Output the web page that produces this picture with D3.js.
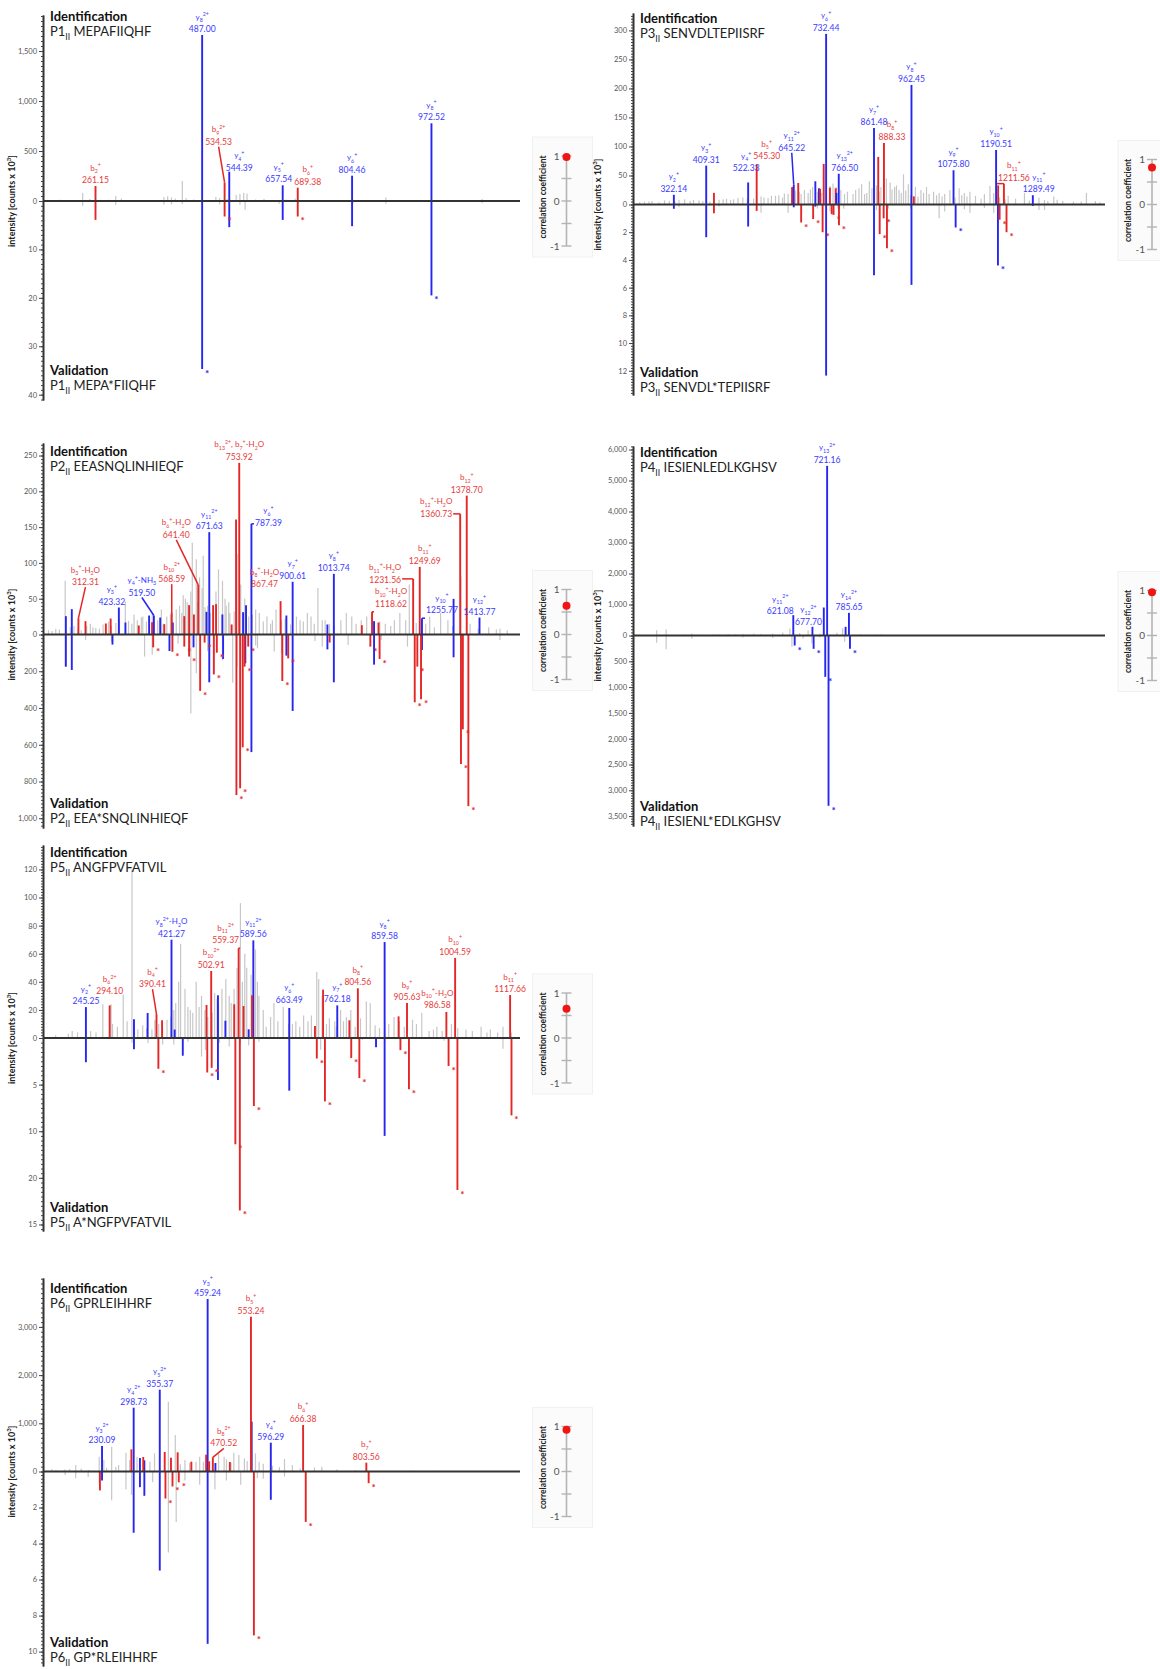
<!DOCTYPE html>
<html>
<head>
<meta charset="utf-8">
<script src="https://cdn.jsdelivr.net/npm/d3@7"></script>
<style>
  body { margin: 0; background: #fff; }
  svg text { font-family: Lato, "Open Sans", "DejaVu Sans", sans-serif; }
</style>
</head>
<body>
<svg id="chart" width="1160" height="1669"></svg>
<script>
// ---------- P1: MEPAFIIQHF ----------
const p1Ident = [[261.15,150,'b'],[487.00,1660,'y'],[534.53,183,'b'],[544.39,293,'y'],[657.54,157,'y'],[689.38,133,'b'],[804.46,253,'y'],[972.52,777,'y']];
const p1Valid = [[261.15,3.9,'b',0],[487.00,34.7,'y',1],[534.53,3.2,'b',1],[544.39,5.4,'y',0],[657.54,3.9,'y',0],[689.38,3.2,'b',1],[804.46,5.2,'y',0],[972.52,19.5,'y',1]];
const p1IdentNoise = [[187,13],[200,8],[215,10],[234,80],[249,20],[273,12],[290,12],[304,50],[316,25],[350,8],[380,10],[406,40],[414,47],[422,35],[430,25],[445,200],[453,30],[469,15],[500,10],[516,40],[524,30],[540,20],[559,60],[567,70],[575,80],[582,75],[600,15],[618,20],[640,12],[665,15],[684,25],[720,8],[735,10],[760,10],[806,15],[850,8],[876,35],[900,10],[939,10],[1000,8],[1040,10],[1080,20],[1107,8],[1130,6]];
const p1ValidNoise = [[234,1.0],[304,0.75],[406,0.7],[422,0.7],[445,0.6],[524,0.7],[567,0.8],[578,1.8],[650,0.55],[806,0.5],[876,0.55],[1080,0.4]];
const p1Labels = [['b_2^+','261.15'],['y_8^2+','487.00'],['b_9^2+','534.53'],['y_4^+','544.39'],['y_5^+','657.54'],['b_6^+','689.38'],['y_6^+','804.46'],['y_8^+','972.52']];
const p1Nudge = {'534.53':[-6,-35,1],'544.39':[10,2,0],'657.54':[-4,0,0],'689.38':[10,0,0]};

// ---------- P3: SENVDLTEPIISRF ----------
const p3Ident = [[322.14,16.7,'y'],[409.31,67,'y'],[430.1,20,'b'],[522.33,38,'y'],[545.30,69,'b'],[640.7,30,'b'],[645.22,34,'y'],[657.3,37,'b'],[703.4,40,'y'],[713.2,28,'y'],[716.1,27,'b'],[725.9,70,'b'],[732.44,294,'y'],[742.6,29,'b'],[758.2,28,'b'],[760.2,20,'y'],[766.50,53,'y'],[861.48,132,'y'],[872.9,82,'b'],[888.33,106,'b'],[962.45,206,'y'],[968.8,14,'b'],[1075.80,59,'y'],[1190.51,94,'y'],[1196,33,'b'],[1211.56,36,'b'],[1289.49,16,'y']];
const p3Valid = [[322.14,0.31,'y',0],[409.31,2.36,'y',0],[430.1,0.63,'b',0],[522.33,1.59,'y',0],[545.30,0.46,'b',0],[645.22,0.2,'y',0],[665.2,1.3,'b',1],[697.5,1.05,'b',1],[703.4,0.15,'y',0],[723,2.0,'b',1],[732.44,12.35,'y',0],[747.5,0.7,'b',0],[752.4,0.75,'b',1],[766.50,0.3,'y',0],[767.1,1.5,'b',1],[861.48,5.1,'y',0],[876.8,2.14,'b',1],[887.5,1.0,'b',1],[896.4,3.15,'b',1],[962.45,5.8,'y',0],[1081.5,1.66,'y',1],[1195.5,4.4,'y',1],[1200,1.1,'b',1],[1218.6,2.0,'b',1],[1289.49,0.1,'y',0]];
const p3IdentNoise = [[230,4],[243,5],[255,5],[263,6],[282,4],[297,7],[310,6],[325,5],[336,8],[351,9],[366,6],[375,8],[390,7],[400,6],[419,5],[430,7],[444,8],[455,9],[464,10],[475,8],[483,9],[495,11],[508,12],[520,9],[537,10],[545,13],[557,14],[565,12],[576,11],[585,15],[596,15],[605,16],[615,12],[620,19],[630,18],[640,20],[650,24],[660,22],[665,18],[674,25],[684,20],[690,26],[696,30],[709,22],[720,20],[743,32],[751,36],[760,30],[772,25],[782,18],[790,22],[805,18],[812,25],[821,28],[828,35],[836,18],[842,20],[849,40],[856,28],[868,33],[875,22],[880,30],[888,18],[895,45],[905,38],[910,26],[917,30],[922,33],[929,25],[935,20],[941,52],[947,24],[954,35],[960,16],[973,30],[980,14],[988,25],[995,20],[1003,30],[1010,18],[1022,22],[1030,16],[1037,20],[1045,14],[1052,18],[1066,25],[1080,12],[1091,28],[1098,16],[1105,20],[1112,14],[1120,22],[1135,15],[1150,10],[1159,18],[1174,32],[1184,20],[1200,12],[1215,9],[1223,15],[1243,10],[1267,20],[1280,7],[1306,12],[1321,8],[1330,6],[1346,14],[1355,8],[1370,6],[1399,5],[1420,5],[1434,20],[1458,6],[1470,4]];
const p3ValidNoise = [[336,0.2],[444,0.15],[557,0.6],[630,0.6],[709,0.3],[743,0.5],[780,0.3],[868,0.4],[900,0.3],[960,0.3],[1037,1.0],[1052,0.5],[1105,0.35],[1120,0.6],[1159,0.25],[1184,0.6],[1306,0.4],[1321,0.4]];
const p3Labels = [['y_2^+','322.14'],['y_3^+','409.31'],['y_4^+','522.33'],['b_5^+','545.30'],['y_11^2+','645.22'],['y_6^+','732.44'],['y_13^2+','766.50'],['y_7^+','861.48'],['b_8^+','888.33'],['y_8^+','962.45'],['y_9^+','1075.80'],['y_10^+','1190.51'],['b_11^+','1211.56'],['y_11^+','1289.49']];
const p3Nudge = {'522.33':[-2,-8,0],'545.30':[10,-2,0],'645.22':[-2,-31,1],'766.50':[6,0,0],'888.33':[8,0,0],'1211.56':[10,0,1],'1289.49':[6,0,0]};

// ---------- P2: EEASNQLINHIEQF ----------
const p2Ident = [
  [277.8,25.6,'y'],[294.1,35.4,'y'],[423.32,37.7,'y'],[441.4,16.8,'y'],[506.4,26.5,'y'],[519.50,26.5,'y'],[536.9,23.7,'y'],[571.5,16.8,'y'],[663.9,31.7,'y'],[671.63,143,'y'],[707.6,28,'y'],[764.5,31.2,'y'],[772.6,41,'y'],[787.39,154.6,'y'],[883.4,26.5,'y'],[900.61,73.6,'y'],[996.1,14,'y'],[1013.74,84.7,'y'],[1124.2,18.6,'y'],[1255.77,22.8,'y'],[1342.6,49.8,'y'],[1413.77,23.7,'y'],
  [312.31,22.8,'b'],[331.7,18.6,'b'],[387.6,15.4,'b'],[400.8,22.3,'b'],[478,12.6,'b'],[514.6,17.2,'b'],[548.1,14.4,'b'],[568.59,31.2,'b'],[603,25.6,'b'],[616.2,41,'b'],[629.4,28,'b'],[641.40,69.4,'b'],[682.2,41,'b'],[690.3,42.4,'b'],[733,14,'b'],[745.2,160.6,'b'],[753.92,239.8,'b'],[867.47,46.6,'b'],[1090.6,13,'b'],[1118.62,31.7,'b'],[1136.4,16.8,'b'],[1231.56,77.7,'b'],[1249.69,94.5,'b'],[1360.73,168.5,'b'],[1378.70,194,'b']];
const p2Valid = [
  [277.8,175,'y',0],[294.1,193,'y',0],[405.8,55,'y',0],[562.3,90,'y',0],[628.4,70,'y',0],[671.63,260,'y',0],[709.6,133,'y',0],[770.6,157,'y',0],[787.39,640,'y',0],[883.4,115,'y',0],[900.61,416,'y',0],[996.1,81,'y',0],[1013.74,260,'y',0],[1124.2,164,'y',0],[1255.77,84,'y',0],[1342.6,124,'y',0],
  [517.6,70,'b',1],[570.4,94,'b',1],[603,66,'b',1],[616.2,120,'b',1],[646.6,307,'b',1],[658.8,44,'b',1],[684.2,217,'b',1],[692.4,99,'b',1],[746.2,874,'b',1],[756.4,837,'b',1],[763.5,614,'b',1],[768.6,175,'b',1],[778.7,66,'b',1],[872.2,253,'b',1],[888.4,130,'b',1],[1002.2,44,'b',0],[1114,66,'b',1],[1139.4,133,'b',1],[1235.9,369,'b',1],[1243,175,'b',1],[1253.2,353,'b',1],[1362.9,705,'b',1],[1368,516,'b',1],[1383.2,934,'b',1]];
const p2IdentNoise = [[230,6],[240,5],[250,8],[260,7],[276,75],[290,10],[300,12],[311,8],[320,6],[335,12],[345,15],[352,10],[360,9],[370,8],[380,14],[395,18],[403,12],[415,16],[425,22],[441,46],[450,19],[459,15],[465,28],[474,20],[485,24],[489,25],[499,18],[515,30],[530,20],[540,35],[545,15],[555,25],[565,28],[581,35],[590,40],[596,30],[600,55],[606,50],[611,45],[621,60],[625,128],[636,105],[640,45],[645,80],[652,65],[655,110],[660,38],[667,40],[675,30],[690,60],[697,91],[708,75],[715,50],[718,40],[725,45],[728,30],[740,32],[748,112],[758,70],[769,50],[780,25],[790,28],[799,35],[809,30],[820,18],[830,25],[840,15],[845,20],[855,35],[870,20],[880,22],[895,14],[911,25],[921,20],[930,18],[941,30],[951,25],[960,15],[970,65],[982,20],[990,20],[1002,15],[1015,12],[1033,20],[1048,30],[1063,25],[1075,15],[1089,20],[1104,25],[1120,14],[1140,18],[1155,15],[1170,12],[1180,20],[1195,30],[1211,20],[1221,70],[1240,16],[1266,15],[1277,25],[1290,10],[1307,30],[1327,20],[1340,12],[1363,81],[1388,15],[1410,8],[1439,10],[1460,7],[1470,8],[1490,6]];
const p2ValidNoise = [[276,175],[332,30],[403,40],[494,120],[515,110],[586,50],[621,430],[636,211],[667,90],[708,140],[736,262],[748,175],[769,102],[799,60],[804,75],[850,93],[870,100],[962,35],[982,66],[1053,57],[1144,30],[1216,66],[1368,200],[1470,30]];
const p2Labels = [['b_3^+-H_2O','312.31'],['y_3^+','423.32'],['y_4^+-NH_3','519.50'],['b_10^2+','568.59'],['b_6^+-H_2O','641.40'],['y_11^2+','671.63'],['b_13^2+, b_7^+-H_2O','753.92'],['y_6^+','787.39'],['b_8^+-H_2O','867.47'],['y_7^+','900.61'],['y_8^+','1013.74'],['b_10^+-H_2O','1118.62'],['b_11^+-H_2O','1231.56'],['b_11^+','1249.69'],['y_10^+','1255.77'],['b_12^+-H_2O','1360.73'],['b_12^+','1378.70'],['y_12^+','1413.77']];
const p2Nudge = {'312.31':[7,-30,1],'423.32':[-7,0,0],'519.50':[-12,-17,1],'568.59':[0,-27,1],'641.40':[-22,-44,1],'787.39':[17,5,1],'867.47':[-16,-11,0],'1118.62':[19,-2,1],'1231.56':[-28,7,1],'1249.69':[5,0,0],'1255.77':[20,-2,1],'1360.73':[-24,6,1]};

// ---------- P4: IESIENLEDLKGHSV ----------
const p4Ident = [[621.08,656,'y'],[677.70,280,'y'],[711.3,903,'y'],[721.16,5473,'y'],[775.8,280,'y'],[785.65,731,'y']];
const p4Valid = [[625.2,194,'y',1],[681.2,258,'y',1],[715.6,801,'y',1],[725.3,3301,'y',1],[788.7,258,'y',1]];
const p4IdentNoise = [[217,172],[245,194],[300,30],[321,65],[350,25],[385,35],[400,30],[428,40],[450,40],[472,45],[490,35],[504,55],[525,50],[560,60],[590,100],[611,225],[640,80],[665,170],[700,60],[750,90],[767,237],[820,40],[840,25],[869,30],[880,30],[1031,20],[1117,15]];
const p4ValidNoise = [[217,142],[245,265],[321,58],[472,39],[560,50],[617,220],[650,60],[676,155],[700,40],[773,123]];
const p4Labels = [['y_11^2+','621.08'],['y_12^2+','677.70'],['y_13^2+','721.16'],['y_14^2+','785.65']];
const p4Nudge = {'621.08':[-13,2,0],'677.70':[-4,1,0]};

// ---------- P5: ANGFPVFATVIL ----------
const p5Ident = [
  [245.25,22,'y'],[344.1,13.3,'y'],[372.2,17.8,'y'],[421.27,70,'y'],[427.8,6,'y'],[516.8,30.4,'y'],[532.1,12.3,'y'],[580,6.2,'y'],[589.56,69.5,'y'],[663.49,21.4,'y'],[762.18,23.2,'y'],[859.58,68.3,'y'],
  [294.10,23.2,'b'],[390.41,17,'b'],[401.9,12.6,'b'],[493.3,23.5,'b'],[502.91,47.7,'b'],[550.3,24,'b'],[559.37,64,'b'],[569.4,22.8,'b'],[586.9,30.4,'b'],[716.3,8.5,'b'],[733,34.4,'b'],[787.1,12.6,'b'],[804.56,35.4,'b'],[888.3,15.4,'b'],[905.63,24.9,'b'],[986.58,18.5,'b'],[1004.59,57,'b'],[1117.66,30.6,'b']];
const p5Valid = [
  [245.25,2.6,'y',0],[344.1,1.2,'y',0],[444.5,1.9,'y',0],[516.8,4.5,'y',0],[663.49,5.65,'y',0],[841.9,1.0,'y',0],[859.58,10.5,'y',0],
  [394.3,3.3,'b',1],[494.8,3.7,'b',1],[503.9,3.2,'b',1],[552.6,11.4,'b',1],[561.8,18.5,'b',1],[590.7,7.3,'b',1],[720.1,2.2,'b',1],[736.8,6.8,'b',1],[790.9,2.15,'b',1],[807.6,4.3,'b',1],[892.1,1.3,'b',1],[909.6,5.5,'b',1],[991.1,3.0,'b',1],[1009.3,16.3,'b',1],[1120.5,8.3,'b',1]];
const p5IdentNoise = [[183,2],[209,3],[217,5],[228,4],[255,5],[266,4],[280,24],[297,24],[300,10],[310,8],[322,31],[330,12],[340,120],[345,8],[352,6],[362,9],[370,7],[381,6],[387,13],[395,10],[403,8],[412,13],[420,15],[426,20],[430,25],[436,40],[440,67],[449,35],[455,22],[460,20],[465,18],[472,40],[478,22],[483,30],[490,20],[496,15],[505,18],[510,32],[515,28],[518,25],[525,35],[533,42],[540,30],[544,25],[550,35],[556,50],[563,96],[567,40],[572,60],[576,50],[585,45],[594,63],[598,40],[601,30],[610,20],[616,8],[625,15],[632,25],[640,12],[651,22],[662,10],[670,10],[677,12],[685,8],[693,16],[702,12],[709,16],[720,47],[724,42],[731,30],[740,10],[746,14],[757,12],[760,8],[769,20],[775,12],[781,15],[790,20],[799,8],[810,14],[822,26],[830,25],[840,9],[849,7],[860,12],[868,10],[879,15],[890,12],[900,8],[917,13],[925,10],[936,18],[951,5],[960,6],[967,8],[978,5],[997,10],[1010,7],[1027,6],[1040,5],[1058,8],[1070,4],[1077,6],[1092,4],[1103,8],[1120,4]];
const p5ValidNoise = [[340,0.5],[373,0.55],[403,0.7],[426,0.7],[455,0.4],[483,2.0],[491,1.3],[520,0.5],[540,0.9],[563,0.6],[580,0.8],[601,0.4],[728,1.25],[814,0.2],[860,0.35],[982,0.3],[1103,1.15]];
const p5Labels = [['y_2^+','245.25'],['b_6^2+','294.10'],['b_4^+','390.41'],['y_8^2+-H_2O','421.27'],['b_10^2+','502.91'],['b_11^2+','559.37'],['y_11^2+','589.56'],['y_6^+','663.49'],['y_7^+','762.18'],['b_8^+','804.56'],['y_8^+','859.58'],['b_9^+','905.63'],['b_10^+-H_2O','986.58'],['b_10^+','1004.59'],['b_11^+','1117.66']];
const p5Nudge = {'294.10':[0,-8,0],'390.41':[-4,-24,1],'559.37':[-13,-2,1],'663.49':[0,-2,0],'986.58':[-9,-1,0]};

// ---------- P6: GPRLEIHHRF ----------
const p6Ident = [
  [230.09,529,'y'],[298.73,1324,'y'],[312.3,280,'y'],[321.9,232,'y'],[355.37,1698,'y'],[459.24,3579,'y'],[476.1,176,'y'],[554.8,1034,'y'],[596.29,598,'y'],
  [293.8,460,'b'],[319.5,301,'b'],[366.1,405,'b'],[379.7,287,'b'],[394.2,398,'b'],[423.9,204,'b'],[456,349,'b'],[462.5,211,'b'],[470.52,294,'b'],[507.4,197,'b'],[553.24,3212,'b'],[666.38,965,'b'],[803.56,183,'b']];
const p6Valid = [
  [230.09,0.5,'y',0],[298.73,3.4,'y',0],[312.3,0.87,'y',0],[321.9,1.35,'y',0],[355.37,5.5,'y',0],[459.24,9.57,'y',0],[596.29,1.57,'y',0],
  [225.5,1.05,'b',0],[367.7,1.5,'b',1],[383,0.83,'b',1],[396.6,0.6,'b',1],[559.6,9.1,'b',1],[672.1,2.8,'b',1],[808.6,0.65,'b',1]];
const p6IdentNoise = [[121,45],[130,30],[149,40],[160,50],[173,135],[185,60],[201,30],[224,308],[234,240],[240,80],[251,515],[260,100],[266,135],[282,390],[290,240],[306,308],[334,204],[344,377],[374,1449],[389,757],[400,150],[410,240],[420,180],[434,204],[442,308],[450,200],[470,150],[483,363],[495,308],[500,250],[510,180],[516,390],[527,342],[539,270],[545,220],[563,377],[571,204],[580,160],[600,120],[615,90],[626,259],[643,135],[660,60],[691,85],[707,100],[740,40],[780,30],[900,20],[950,15]];
const p6ValidNoise = [[150,0.2],[173,0.37],[200,0.3],[224,0.65],[251,1.6],[282,1.0],[294,1.3],[340,0.6],[374,4.5],[391,2.8],[410,0.5],[442,0.74],[475,1.0],[500,0.5],[531,0.74],[567,0.37],[580,0.4],[626,0.28]];
const p6Labels = [['y_3^2+','230.09'],['y_4^2+','298.73'],['y_5^2+','355.37'],['y_3^+','459.24'],['b_8^2+','470.52'],['b_5^+','553.24'],['y_4^+','596.29'],['b_6^+','666.38'],['b_7^+','803.56']];
const p6Nudge = {'470.52':[11,-8,1]};

// ---------- panel definitions ----------
const panels = [
  {key:'P1', idSeq:'MEPAFIIQHF', valSeq:'MEPA*FIIQHF', mz:[150,1160], upMax:1860, lowMax:41.1,
   upTicks:[0,500,1000,1500], lowTicks:[10,20,30,40], lowText:null, corr:0.98,
   ident:p1Ident, valid:p1Valid, identNoise:p1IdentNoise, validNoise:p1ValidNoise, labels:p1Labels, nudge:p1Nudge},
  {key:'P3', idSeq:'SENVDLTEPIISRF', valSeq:'SENVDL*TEPIISRF', mz:[212,1484], upMax:330, lowMax:13.75,
   upTicks:[0,50,100,150,200,250,300], lowTicks:[2,4,6,8,10,12], lowText:null, corr:0.82,
   ident:p3Ident, valid:p3Valid, identNoise:p3IdentNoise, validNoise:p3ValidNoise, labels:p3Labels, nudge:p3Nudge},
  {key:'P2', idSeq:'EEASNQLINHIEQF', valSeq:'EEA*SNQLINHIEQF', mz:[215,1525], upMax:267.5, lowMax:1053,
   upTicks:[0,50,100,150,200,250], lowTicks:[200,400,600,800,1000], lowText:null, corr:0.64,
   ident:p2Ident, valid:p2Valid, identNoise:p2IdentNoise, validNoise:p2ValidNoise, labels:p2Labels, nudge:p2Nudge},
  {key:'P4', idSeq:'IESIENLEDLKGHSV', valSeq:'IESIENL*EDLKGHSV', mz:[147,1543], upMax:6113, lowMax:3692,
   upTicks:[0,1000,2000,3000,4000,5000,6000], lowTicks:[500,1000,1500,2000,2500,3000,3500], lowText:null, corr:0.96,
   ident:p4Ident, valid:p4Valid, identNoise:p4IdentNoise, validNoise:p4ValidNoise, labels:p4Labels, nudge:p4Nudge},
  {key:'P5', idSeq:'ANGFPVFATVIL', valSeq:'A*NGFPVFATVIL', mz:[157,1138], upMax:137.4, lowMax:20.7,
   upTicks:[0,20,40,60,80,100,120], lowTicks:[5,10,15,20], lowText:['5','10','20','15'], corr:0.65,
   ident:p5Ident, valid:p5Valid, identNoise:p5IdentNoise, validNoise:p5ValidNoise, labels:p5Labels, nudge:p5Nudge},
  {key:'P6', idSeq:'GPRLEIHHRF', valSeq:'GP*RLEIHHRF', mz:[102,1137], upMax:4015, lowMax:10.8,
   upTicks:[0,1000,2000,3000], lowTicks:[2,4,6,8,10], lowText:null, corr:0.93,
   ident:p6Ident, valid:p6Valid, identNoise:p6IdentNoise, validNoise:p6ValidNoise, labels:p6Labels, nudge:p6Nudge}
];

// ---------- page layout (pixels) ----------
const frames = {
  P1:{x0:43,  x1:520,  top:15,   base:201,    bottom:400,  corrX:566.5, ylabX:15,  identY:21,   validY:375},
  P3:{x0:633, x1:1105, top:13,   base:204.5,  bottom:395,  corrX:1152,  ylabX:601, identY:23,   validY:377},
  P2:{x0:43,  x1:520,  top:443,  base:634.5,  bottom:828,  corrX:566.5, ylabX:15,  identY:456,  validY:808},
  P4:{x0:633, x1:1105, top:446,  base:635.5,  bottom:826,  corrX:1152,  ylabX:601, identY:457,  validY:811},
  P5:{x0:43,  x1:520,  top:845,  base:1038,   bottom:1231, corrX:566.5, ylabX:15,  identY:857,  validY:1212},
  P6:{x0:43,  x1:520,  top:1278, base:1471.5, bottom:1666, corrX:566.5, ylabX:15,  identY:1293, validY:1647}
};

const BLUE = '#2626f0', RED = '#e42626', GRAY = '#c7c7c7';
const TXT_BLUE = '#3a3aff', TXT_RED = '#e63b3b';
const ionColor = t => t === 'y' ? BLUE : RED;

// Writes a string with _sub / ^sup markup into a <text> as tspans.
function rich(sel, str, size) {
  const re = /(_\{[^}]*\}|\^\{[^}]*\}|_\d+|\^\d*\+)/g;
  const parts = [];
  let last = 0, m;
  while ((m = re.exec(str))) {
    if (m.index > last) parts.push({t: str.slice(last, m.index), k: 0});
    const tok = m[0];
    parts.push({t: tok.slice(1).replace(/[{}]/g, ''), k: tok[0] === '_' ? 1 : -1});
    last = re.lastIndex;
  }
  if (last < str.length) parts.push({t: str.slice(last), k: 0});
  let cur = 0;
  parts.forEach(p => {
    const off = p.k === 1 ? size * 0.3 : p.k === -1 ? -size * 0.42 : 0;
    sel.append('tspan').attr('dy', off - cur).attr('font-size', p.k ? size * 0.66 : size).text(p.t);
    cur = off;
  });
  return sel;
}

const svg = d3.select('#chart');

panels.forEach(p => {
  const f = frames[p.key];
  const g = svg.append('g').attr('class', 'panel-' + p.key);
  const x = d3.scaleLinear().domain(p.mz).range([f.x0, f.x1]);
  const yU = d3.scaleLinear().domain([0, p.upMax]).range([f.base, f.top]);
  const yL = d3.scaleLinear().domain([0, p.lowMax]).range([f.base, f.bottom]);

  // correlation coefficient gauge (drawn first so it stays behind)
  const c = d3.scaleLinear().domain([-1, 1]).range([f.base + 45, f.base - 45]);
  const cg = g.append('g');
  cg.append('rect').attr('x', f.corrX - 34).attr('y', f.base - 64).attr('width', 60).attr('height', 120)
    .attr('fill', '#fbfbfb').attr('stroke', '#f1f1f1');
  cg.append('line').attr('x1', f.corrX).attr('x2', f.corrX).attr('y1', c(1)).attr('y2', c(-1))
    .attr('stroke', '#b4b4b4').attr('stroke-width', 1.6);
  cg.selectAll('.ct').data([1, 0.5, 0, -0.5, -1]).join('line')
    .attr('x1', f.corrX - 5).attr('x2', f.corrX + 5).attr('y1', d => c(d)).attr('y2', d => c(d))
    .attr('stroke', '#b4b4b4').attr('stroke-width', 1.4);
  cg.selectAll('.cl').data([1, 0, -1]).join('text')
    .attr('x', f.corrX - 7).attr('y', d => c(d) + 3.5).attr('text-anchor', 'end')
    .attr('font-size', 10).attr('fill', '#555').text(d => d);
  cg.append('circle').attr('cx', f.corrX).attr('cy', c(p.corr)).attr('r', 4).attr('fill', '#f01414');
  cg.append('text').attr('transform', `translate(${f.corrX - 21},${f.base - 4}) rotate(-90)`)
    .attr('text-anchor', 'middle').attr('font-size', 8.5).attr('font-weight', 700).attr('fill', '#222')
    .text('correlation coefficient');

  // unassigned (noise) peaks
  g.append('g').selectAll('line').data(p.identNoise).join('line')
    .attr('x1', d => x(d[0])).attr('x2', d => x(d[0]))
    .attr('y1', yU(0)).attr('y2', d => yU(d[1]))
    .attr('stroke', GRAY).attr('stroke-width', 1.2);
  g.append('g').selectAll('line').data(p.validNoise).join('line')
    .attr('x1', d => x(d[0])).attr('x2', d => x(d[0]))
    .attr('y1', yL(0)).attr('y2', d => yL(d[1]))
    .attr('stroke', GRAY).attr('stroke-width', 1.2);

  // assigned b / y fragment peaks
  g.append('g').selectAll('line').data(p.ident).join('line')
    .attr('x1', d => x(d[0])).attr('x2', d => x(d[0]))
    .attr('y1', yU(0)).attr('y2', d => yU(d[1]))
    .attr('stroke', d => ionColor(d[2])).attr('stroke-width', 1.9);
  g.append('g').selectAll('line').data(p.valid).join('line')
    .attr('x1', d => x(d[0])).attr('x2', d => x(d[0]))
    .attr('y1', yL(0)).attr('y2', d => yL(d[1]))
    .attr('stroke', d => ionColor(d[2])).attr('stroke-width', 1.9);

  // asterisks on validation peaks
  g.append('g').selectAll('text').data(p.valid.filter(d => d[3])).join('text')
    .attr('x', d => x(d[0]) + 5).attr('y', d => yL(d[1]) + 8)
    .attr('text-anchor', 'middle').attr('font-size', 10).attr('font-weight', 700)
    .attr('fill', d => ionColor(d[2])).text('*');

  // baseline
  g.append('line').attr('x1', x.range()[0]).attr('x2', x.range()[1])
    .attr('y1', yU(0)).attr('y2', yU(0)).attr('stroke', '#333').attr('stroke-width', 1.8);

  // y axes
  const upStep = p.upTicks[1] - p.upTicks[0];
  const lowStep = p.lowTicks[1] - p.lowTicks[0];
  const fmt = d3.format(',');
  const axU = g.append('g').attr('transform', `translate(${f.x0},0)`)
    .call(d3.axisLeft(yU).tickValues(p.upTicks).tickFormat(fmt).tickSize(4).tickSizeOuter(0).tickPadding(2));
  const axUm = g.append('g').attr('transform', `translate(${f.x0},0)`)
    .call(d3.axisLeft(yU).tickValues(d3.range(0, p.upMax, upStep / 10)).tickFormat('').tickSize(2).tickSizeOuter(0));
  const lowFmt = p.lowText ? (d, i) => p.lowText[i] : fmt;
  const axL = g.append('g').attr('transform', `translate(${f.x0},0)`)
    .call(d3.axisLeft(yL).tickValues(p.lowTicks).tickFormat(lowFmt).tickSize(4).tickSizeOuter(0).tickPadding(2));
  const axLm = g.append('g').attr('transform', `translate(${f.x0},0)`)
    .call(d3.axisLeft(yL).tickValues(d3.range(0, p.lowMax, lowStep / 10)).tickFormat('').tickSize(2).tickSizeOuter(0));
  [axU, axUm, axL, axLm].forEach(a => {
    a.select('.domain').attr('stroke', '#333').attr('stroke-width', 1.6);
    a.selectAll('.tick line').attr('stroke', '#444');
    a.selectAll('.tick text').attr('font-size', 7.5).attr('fill', '#555')
      .attr('font-family', 'Lato, "Open Sans", sans-serif');
  });

  // y-axis title
  rich(g.append('text')
    .attr('transform', `translate(${f.ylabX},${f.base}) rotate(-90)`)
    .attr('text-anchor', 'middle').attr('font-weight', 700).attr('fill', '#222'),
    'intensity [counts x 10^{3}]', 9);

  // peak annotations
  p.labels.forEach(([name, val]) => {
    const mz = +val;
    const pk = p.ident.find(d => Math.abs(d[0] - mz) < 0.005);
    const px = x(mz), top = yU(pk ? pk[1] : 0);
    const nd = p.nudge[val] || [0, 0, 0];
    const cx = px + nd[0], vy = top - 3 + nd[1];
    const col = name[0] === 'y' ? TXT_BLUE : TXT_RED;
    const lg = g.append('g');
    const vt = lg.append('text').attr('x', cx).attr('y', vy).attr('text-anchor', 'middle')
      .attr('font-size', 8.6).attr('fill', col).text(val);
    rich(lg.append('text').attr('x', cx).attr('y', vy - 12.5).attr('text-anchor', 'middle').attr('fill', col), name, 8);
    if (nd[2]) {
      const w = vt.node().getComputedTextLength();
      let x2, y2;
      if (nd[1] <= -8) { x2 = cx; y2 = vy + 2; }
      else { x2 = nd[0] > 0 ? cx - w / 2 - 1 : cx + w / 2 + 1; y2 = top; }
      lg.append('line').attr('x1', px).attr('y1', top).attr('x2', x2).attr('y2', y2)
        .attr('stroke', name[0] === 'y' ? BLUE : RED).attr('stroke-width', 1.5);
    }
  });

  // headings
  const tx = f.x0 + 7;
  g.append('text').attr('x', tx).attr('y', f.identY).attr('font-size', 13).attr('font-weight', 700)
    .attr('fill', '#111').text('Identification');
  rich(g.append('text').attr('x', tx).attr('y', f.identY + 15).attr('fill', '#222'),
    p.key + '_{II} ' + p.idSeq, 13);
  g.append('text').attr('x', tx).attr('y', f.validY).attr('font-size', 13).attr('font-weight', 700)
    .attr('fill', '#111').text('Validation');
  rich(g.append('text').attr('x', tx).attr('y', f.validY + 15).attr('fill', '#222'),
    p.key + '_{II} ' + p.valSeq, 13);
});
</script>
</body>
</html>
